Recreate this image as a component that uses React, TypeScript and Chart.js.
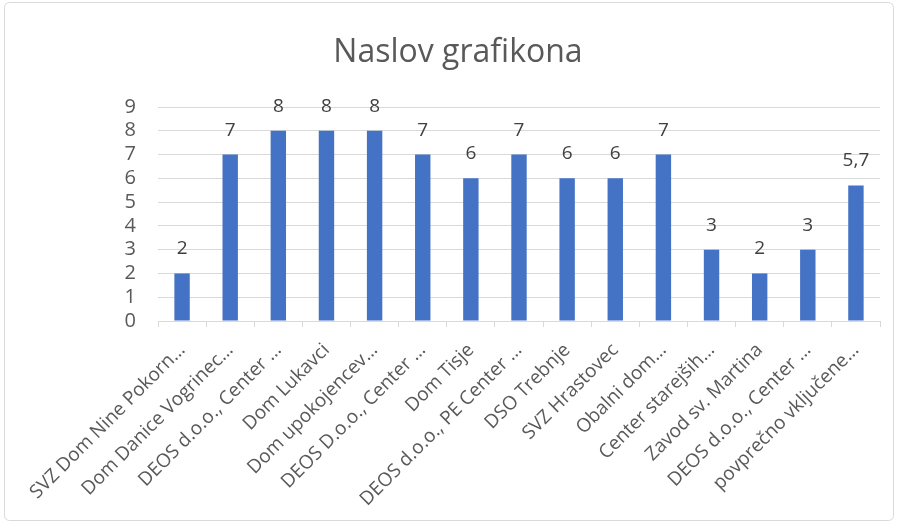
import React, { useEffect, useRef } from "react";
import { Chart, registerables } from "chart.js";

Chart.register(...registerables);

const categories = [
  "SVZ Dom Nine Pokorn…",
  "Dom Danice Vogrinec…",
  "DEOS d.o.o., Center …",
  "Dom Lukavci",
  "Dom upokojencev…",
  "DEOS D.o.o., Center …",
  "Dom Tisje",
  "DEOS d.o.o., PE Center …",
  "DSO Trebnje",
  "SVZ Hrastovec",
  "Obalni dom…",
  "Center starejših…",
  "Zavod sv. Martina",
  "DEOS d.o.o., Center …",
  "povprečno vključene…",
];
const values = [2, 7, 8, 8, 8, 7, 6, 7, 6, 6, 7, 3, 2, 3, 5.7];
const valueLabels = ["2", "7", "8", "8", "8", "7", "6", "7", "6", "6", "7", "3", "2", "3", "5,7"];
const title = "Naslov grafikona";

const FONT = "'Open Sans', 'Noto Sans', sans-serif";
const TEXT = "#595959";
const GRID = "#d9d9d9";

export default function App() {
  const ref = useRef<HTMLCanvasElement>(null);
  useEffect(() => {
    document.body.style.margin = "0";
    const frame = {
      id: "frame",
      beforeDraw(chart: any) {
        const ctx = chart.ctx;
        ctx.save();
        ctx.fillStyle = "#ffffff";
        ctx.fillRect(0, 0, chart.width, chart.height);
        ctx.strokeStyle = GRID;
        ctx.lineWidth = 1;
        ctx.beginPath();
        ctx.roundRect(4.5, 2.5, 889, 518, 5);
        ctx.stroke();
        ctx.font = `32px ${FONT}`;
        ctx.fillStyle = TEXT;
        ctx.textAlign = "center";
        ctx.textBaseline = "alphabetic";
        ctx.fillText(title, 458, 62);
        ctx.restore();
      },
    };
    const dataLabels = {
      id: "dataLabels",
      afterDatasetsDraw(chart: any) {
        const ctx = chart.ctx;
        const meta = chart.getDatasetMeta(0);
        ctx.save();
        ctx.font = `19px ${FONT}`;
        ctx.fillStyle = "#404040";
        ctx.textAlign = "center";
        ctx.textBaseline = "alphabetic";
        meta.data.forEach((bar: any, i: number) => {
          ctx.fillText(valueLabels[i], bar.x, bar.y - 19);
        });
        ctx.restore();
      },
    };
    const chart = new Chart(ref.current!, {
      type: "bar",
      data: {
        labels: categories,
        datasets: [
          {
            data: values,
            backgroundColor: "#4472c4",
            barPercentage: 0.32,
            categoryPercentage: 1,
          },
        ],
      },
      options: {
        animation: false,
        responsive: false,
        layout: { padding: { left: 0, right: 18, top: 107, bottom: 0 } },
        plugins: {
          legend: { display: false },
          tooltip: { enabled: false },
          title: { display: false },
        },
        scales: {
          x: {
            offset: true,
            grid: {
              offset: true,
              drawOnChartArea: false,
              drawTicks: true,
              tickLength: 6,
              color: GRID,
            },
            border: { color: GRID },
            ticks: {
              color: TEXT,
              font: { family: FONT, size: 19 },
              minRotation: 45,
              maxRotation: 45,
              autoSkip: false,
              padding: 12,
            },
            afterFit(scale: any) {
              scale.height = 203;
              scale.paddingLeft = 0;
              scale.paddingRight = 0;
            },
          },
          y: {
            min: 0,
            max: 9,
            ticks: {
              stepSize: 1,
              autoSkip: false,
              color: TEXT,
              font: { family: FONT, size: 20 },
              padding: 22,
            },
            grid: { color: GRID, drawTicks: false },
            border: { display: false },
            afterFit(scale: any) {
              scale.width = 158;
              scale.paddingTop = 0;
            },
          },
        },
      },
      plugins: [frame, dataLabels],
    });
    return () => chart.destroy();
  }, []);
  return (
    <div style={{ position: "absolute", left: 0, top: 0, width: 898, height: 524 }}>
      <canvas ref={ref} width={898} height={524} style={{ width: 898, height: 524 }} />
    </div>
  );
}
